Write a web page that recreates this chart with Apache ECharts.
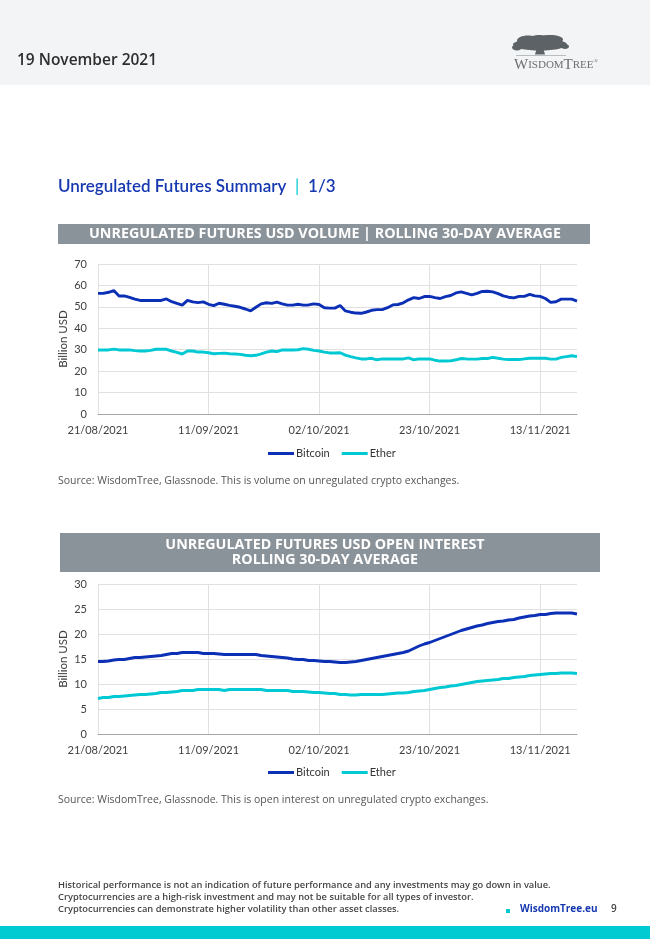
<!DOCTYPE html>
<html>
<head>
<meta charset="utf-8">
<script src="https://cdn.jsdelivr.net/npm/echarts@6/dist/echarts.min.js"></script>
<style>
html,body{margin:0;padding:0;background:#fff;}
#c{width:650px;height:939px;}
</style>
</head>
<body>
<div id="c"></div>
<script>
// ---- data ----
const startDate = [2021, 8, 21]; // first category: 21/08/2021
const dayCount = 92;             // through 20/11/2021
const volumeBitcoin = [56.3,56.3,56.8,57.6,55.1,55.1,54.4,53.6,53.0,53.0,53.0,53.0,53.0,53.7,52.4,51.6,50.8,53.0,52.3,52.0,52.3,51.2,50.6,51.7,51.2,50.7,50.3,49.8,49.0,48.1,49.8,51.4,51.9,51.6,52.2,51.4,50.8,50.8,51.2,50.8,50.9,51.4,51.1,49.6,49.4,49.4,50.6,48.1,47.5,47.1,47.0,47.6,48.4,48.7,48.7,49.6,50.9,51.1,51.9,53.3,54.3,53.9,54.8,54.9,54.3,53.9,54.8,55.3,56.5,57.0,56.3,55.6,56.3,57.2,57.3,57.0,56.2,55.1,54.5,54.2,54.9,54.9,55.8,55.1,54.9,53.9,52.1,52.4,53.6,53.6,53.6,52.7];
const volumeEther = [29.9,29.9,29.9,30.3,29.9,29.9,29.9,29.6,29.4,29.4,29.7,30.2,30.2,30.2,29.4,28.8,28.0,29.4,29.4,28.9,28.9,28.6,28.1,28.3,28.4,28.1,28.0,27.8,27.4,27.2,27.4,28.1,28.9,29.4,29.1,29.9,29.9,29.9,30.0,30.5,30.2,29.7,29.4,28.9,28.5,28.5,28.6,27.5,26.8,26.2,25.7,25.7,26.0,25.3,25.7,25.7,25.7,25.7,25.7,26.2,25.3,25.7,25.7,25.7,25.1,24.7,24.7,24.8,25.3,25.9,25.7,25.6,25.6,25.9,25.9,26.4,26.0,25.6,25.4,25.4,25.4,25.7,26.0,26.0,26.0,26.0,25.6,25.6,26.4,26.8,27.2,26.8];
const oiBitcoin = [14.5,14.5,14.6,14.8,14.9,14.9,15.1,15.3,15.3,15.4,15.5,15.6,15.7,15.9,16.1,16.1,16.3,16.3,16.3,16.3,16.1,16.1,16.1,16.0,15.9,15.9,15.9,15.9,15.9,15.9,15.9,15.7,15.6,15.5,15.4,15.3,15.2,15.0,14.9,14.9,14.7,14.7,14.6,14.5,14.5,14.4,14.3,14.3,14.4,14.5,14.7,14.9,15.1,15.3,15.5,15.7,15.9,16.1,16.3,16.6,17.1,17.6,18.0,18.3,18.7,19.1,19.5,19.9,20.3,20.7,21.0,21.3,21.6,21.8,22.1,22.3,22.5,22.6,22.8,22.9,23.2,23.4,23.6,23.7,23.9,23.9,24.1,24.2,24.2,24.2,24.2,24.0];
const oiEther = [7.1,7.3,7.3,7.5,7.5,7.6,7.7,7.8,7.9,7.9,8.0,8.1,8.3,8.3,8.4,8.5,8.7,8.7,8.7,8.9,8.9,8.9,8.9,8.9,8.7,8.9,8.9,8.9,8.9,8.9,8.9,8.9,8.7,8.7,8.7,8.7,8.7,8.5,8.5,8.5,8.4,8.3,8.3,8.2,8.1,8.1,7.9,7.9,7.8,7.8,7.9,7.9,7.9,7.9,7.9,8.0,8.1,8.2,8.2,8.3,8.5,8.6,8.7,8.9,9.1,9.3,9.4,9.6,9.7,9.9,10.1,10.3,10.5,10.6,10.7,10.8,10.9,11.1,11.1,11.3,11.4,11.5,11.7,11.8,11.9,12.0,12.1,12.1,12.2,12.2,12.2,12.1];
const seriesNames = ['Bitcoin', 'Ether'];
const volumeTicks = {min: 0, max: 70, interval: 10};
const oiTicks = {min: 0, max: 30, interval: 5};

// categories (dd/mm/yyyy)
const categories = [];
for (let i = 0; i < dayCount; i++) {
  const d = new Date(Date.UTC(startDate[0], startDate[1] - 1, startDate[2] + i));
  const dd = String(d.getUTCDate()).padStart(2, '0');
  const mm = String(d.getUTCMonth() + 1).padStart(2, '0');
  categories.push(dd + '/' + mm + '/' + d.getUTCFullYear());
}

// ---- styling ----
const FONT = 'Lato, "Noto Sans", sans-serif';
const FONT2 = '"Open Sans", Lato, sans-serif';
const BTC = '#0b2fb5';
const ETH = '#00c9d4';
const AXIS_TXT = '#404040';
const GRID_LINE = '#e0e0e0';

function xAxisDef(gi) {
  return {
    type: 'category', gridIndex: gi, data: categories, boundaryGap: false,
    axisLine: {show: true, lineStyle: {color: '#a6a6a6', width: 1}},
    axisTick: {show: false},
    axisLabel: {interval: 20, color: AXIS_TXT, fontFamily: FONT, fontSize: 11, margin: 11},
    splitLine: {show: true, interval: 20, lineStyle: {color: GRID_LINE, width: 1}}
  };
}
function yAxisDef(gi, t) {
  return {
    type: 'value', gridIndex: gi, min: t.min, max: t.max, interval: t.interval,
    name: 'Billion USD', nameLocation: 'middle', nameGap: 29, nameRotate: 90,
    nameMoveOverlap: false,
    nameTextStyle: {color: AXIS_TXT, fontFamily: FONT, fontSize: 11.5},
    axisLine: {show: false}, axisTick: {show: false},
    axisLabel: {color: AXIS_TXT, fontFamily: FONT, fontSize: 11, margin: 11},
    splitLine: {show: true, lineStyle: {color: GRID_LINE, width: 1}}
  };
}
function lineSeries(name, data, color, gi) {
  return {
    name: name, type: 'line', xAxisIndex: gi, yAxisIndex: gi, data: data,
    showSymbol: false, symbol: 'none', smooth: false,
    lineStyle: {color: color, width: 2.9}, itemStyle: {color: color},
    emphasis: {disabled: true}, animation: false
  };
}
function legendDef(top) {
  return {
    top: top, left: 263, itemWidth: 26, itemHeight: 3, itemGap: 12, icon: 'rect',
    textStyle: {color: '#333', fontFamily: FONT, fontSize: 11, padding: [0, 0, 0, -3]},
    data: seriesNames.map(n => ({name: n}))
  };
}

const chart = echarts.init(document.getElementById('c'), null, {renderer: 'canvas'});

const graphics = [
  {type: 'rect', shape: {x: 0, y: 0, width: 650, height: 85}, style: {fill: '#f3f4f6'}, silent: true, z: -10},
  {type: 'text', left: 17, top: 53, style: {text: '19 November 2021', fill: '#2e2e2e', font: '600 15.5px ' + FONT2}},
  // logo tree
  {type: 'group', left: 512, top: 35, children: [
    {type: 'ellipse', shape: {cx: 28, cy: 9, rx: 27, ry: 6}, style: {fill: '#5c6266'}},
    {type: 'ellipse', shape: {cx: 16, cy: 5, rx: 11, ry: 5}, style: {fill: '#5c6266'}},
    {type: 'ellipse', shape: {cx: 38, cy: 4, rx: 13, ry: 4.5}, style: {fill: '#5c6266'}},
    {type: 'ellipse', shape: {cx: 27, cy: 2, rx: 8, ry: 2.5}, style: {fill: '#5c6266'}},
    {type: 'ellipse', shape: {cx: 5, cy: 12, rx: 5, ry: 3}, style: {fill: '#5c6266'}},
    {type: 'ellipse', shape: {cx: 53, cy: 11, rx: 4, ry: 2.5}, style: {fill: '#5c6266'}},
    {type: 'polygon', shape: {points: [[25, 12], [31, 12], [33, 19], [23, 19]]}, style: {fill: '#5c6266'}},
    {type: 'line', shape: {x1: 4, y1: 20, x2: 54, y2: 20}, style: {stroke: '#b8bcbf', lineWidth: 1}}
  ]},
  {type: 'text', left: 514, top: 58, style: {
    text: '{b|W}{s|ISDOM}{b|T}{s|REE}{r|®}',
    rich: {
      b: {font: '15px "Liberation Serif", "DejaVu Serif", serif', fill: '#6a6f73'},
      s: {font: '11px "Liberation Serif", "DejaVu Serif", serif', fill: '#6a6f73'},
      r: {font: '6px "Liberation Serif", serif', fill: '#6a6f73', verticalAlign: 'top'}
    }}},
  // page title
  {type: 'text', left: 58, top: 178, style: {
    text: '{t|Unregulated Futures Summary}{p|  |  }{t|1/3}',
    rich: {
      t: {font: '600 17px ' + FONT, fill: '#1538b0'},
      p: {font: '400 17px ' + FONT, fill: ETH}
    }}},
  // banner 1
  {type: 'rect', shape: {x: 58, y: 224, width: 532, height: 20}, style: {fill: '#8a939a'}},
  {type: 'text', x: 325, y: 234, style: {text: 'UNREGULATED FUTURES USD VOLUME | ROLLING 30-DAY AVERAGE', fill: '#fff', font: 'bold 14.3px ' + FONT2, align: 'center', verticalAlign: 'middle'}},
  // source 1
  {type: 'text', left: 58, top: 476, style: {text: 'Source: WisdomTree, Glassnode. This is volume on unregulated crypto exchanges.', fill: '#555', font: '10.5px ' + FONT2}},
  // banner 2
  {type: 'rect', shape: {x: 60, y: 533, width: 540, height: 39}, style: {fill: '#8a939a'}},
  {type: 'text', x: 325, y: 545, style: {text: 'UNREGULATED FUTURES USD OPEN INTEREST', fill: '#fff', font: 'bold 14.3px ' + FONT2, align: 'center', verticalAlign: 'middle'}},
  {type: 'text', x: 325, y: 560, style: {text: 'ROLLING 30-DAY AVERAGE', fill: '#fff', font: 'bold 14.3px ' + FONT2, align: 'center', verticalAlign: 'middle'}},
  // source 2
  {type: 'text', left: 58, top: 795, style: {text: 'Source: WisdomTree, Glassnode. This is open interest on unregulated crypto exchanges.', fill: '#555', font: '10.5px ' + FONT2}},
  // footer
  {type: 'text', left: 58, top: 881, style: {text: 'Historical performance is not an indication of future performance and any investments may go down in value.', fill: '#444', font: '600 9.3px ' + FONT2}},
  {type: 'text', left: 58, top: 893, style: {text: 'Cryptocurrencies are a high-risk investment and may not be suitable for all types of investor.', fill: '#444', font: '600 9.3px ' + FONT2}},
  {type: 'text', left: 58, top: 905, style: {text: 'Cryptocurrencies can demonstrate higher volatility than other asset classes.', fill: '#444', font: '600 9.3px ' + FONT2}},
  {type: 'rect', shape: {x: 506, y: 909, width: 4, height: 4}, style: {fill: ETH}},
  {type: 'text', left: 520, top: 904, style: {text: 'WisdomTree.eu', fill: '#1538b0', font: 'bold 10px ' + FONT2}},
  {type: 'text', left: 611, top: 904, style: {text: '9', fill: '#444', font: '600 10px ' + FONT2}},
  {type: 'rect', shape: {x: 0, y: 926, width: 650, height: 13}, style: {fill: '#00cbd3'}}
];

chart.setOption({
  animation: false,
  backgroundColor: '#ffffff',
  textStyle: {fontFamily: FONT},
  grid: [
    {left: 98, top: 264, width: 479, height: 150, containLabel: false},
    {left: 98, top: 584, width: 479, height: 150, containLabel: false}
  ],
  xAxis: [xAxisDef(0), xAxisDef(1)],
  yAxis: [yAxisDef(0, volumeTicks), yAxisDef(1, oiTicks)],
  legend: [legendDef(443), legendDef(762)],
  series: [
    lineSeries(seriesNames[0], volumeBitcoin, BTC, 0),
    lineSeries(seriesNames[1], volumeEther, ETH, 0),
    lineSeries(seriesNames[0], oiBitcoin, BTC, 1),
    lineSeries(seriesNames[1], oiEther, ETH, 1)
  ],
  graphic: graphics
});
</script>
</body>
</html>
